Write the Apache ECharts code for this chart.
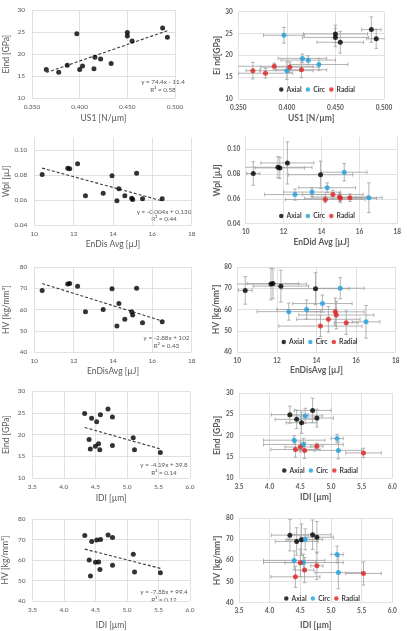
<!DOCTYPE html>
<html><head><meta charset="utf-8">
<script src="https://cdn.jsdelivr.net/npm/echarts@6/dist/echarts.min.js"></script>
<style>html,body{margin:0;padding:0;background:#fff}#c{width:407px;height:631px}</style>
</head><body><div id="c"></div>
<script>
// ---- DATA (samples ordered: Axial x5, Circ x5, Radial x5) ----
const groups = ['Axial', 'Circ', 'Radial'];
const sampleGroup = [0,0,0,0,0, 1,1,1,1,1, 2,2,2,2,2];
const US1     = [0.450, 0.450, 0.455, 0.487, 0.492, 0.397, 0.416, 0.422, 0.433, 0.400, 0.365, 0.378, 0.387, 0.403, 0.415];
const US1_sd  = [0.033, 0.034, 0.024, 0.010, 0.010, 0.021, 0.025, 0.028, 0.030, 0.027, 0.007, 0.028, 0.040, 0.030, 0.026];
const Eind    = [24.9, 24.1, 23.0, 25.9, 23.8, 24.6, 19.3, 18.9, 17.9, 16.5, 16.5, 15.9, 17.5, 17.3, 16.7];
const Eind_sd = [2.0, 2.1, 2.5, 2.9, 2.2, 1.8, 1.0, 1.0, 1.4, 2.0, 1.9, 1.1, 0.7, 1.2, 1.8];
const EnDis   = [11.7, 12.2, 13.95, 11.8, 10.4, 15.2, 14.3, 13.5, 12.6, 16.5, 14.6, 15.5, 15.0, 14.95, 14.2];
const EnDis_sd= [1.8, 1.4, 1.7, 1.3, 0.35, 1.2, 1.5, 1.5, 1.6, 0.7, 1.6, 0.6, 1.9, 1.45, 2.1];
const Wpl     = [0.0855, 0.089, 0.0795, 0.085, 0.0805, 0.0815, 0.069, 0.0655, 0.0635, 0.061, 0.0635, 0.061, 0.0605, 0.0615, 0.0595];
const Wpl_sd  = [0.0085, 0.017, 0.011, 0.0085, 0.0095, 0.007, 0.004, 0.0035, 0.0045, 0.012, 0.0035, 0.003, 0.0035, 0.0035, 0.0025];
const HV      = [72, 71, 69.8, 72.2, 69, 70, 62.8, 60, 59, 54.2, 55.4, 53.8, 57.4, 58.9, 52.2];
const HV_sd   = [7.5, 7.5, 7.5, 7, 6.5, 5, 4, 4.5, 4, 7.7, 6, 5.5, 6.5, 6.5, 5];
const IDI     = [4.33, 4.77, 4.52, 4.70, 4.44, 4.58, 5.10, 4.40, 4.55, 5.12, 4.57, 5.53, 4.77, 4.50, 4.42];
const IDI_sd  = [0.30, 0.27, 0.25, 0.30, 0.35, 0.28, 0.10, 0.50, 0.65, 0.38, 0.15, 0.29, 0.10, 0.25, 0.40];
const eqText  = ['y = 74.4x - 11.4', 'y = -0.004x + 0.130', 'y = -2.88x + 102', 'y = -4.19x + 39.8', 'y = -7.88x + 99.4'];
const r2Text  = ['R\u00b2 = 0.58', 'R\u00b2 = 0.44', 'R\u00b2 = 0.43', 'R\u00b2 = 0.14', 'R\u00b2 = 0.12'];

const vars = {
  US1:   {v: US1,   sd: US1_sd,   min: 0.35, max: 0.50, interval: 0.05, dec: 3},
  Eind:  {v: Eind,  sd: Eind_sd,  min: 10,   max: 30,   interval: 5,    dec: 0},
  EnDis: {v: EnDis, sd: EnDis_sd, min: 10,   max: 18,   interval: 2,    dec: 0},
  Wpl:   {v: Wpl,   sd: Wpl_sd,   min: 0.04, max: 0.11, interval: 0.02, dec: 2},
  HV:    {v: HV,    sd: HV_sd,    min: 40,   max: 80,   interval: 10,   dec: 0},
  IDI:   {v: IDI,   sd: IDI_sd,   min: 3.5,  max: 6.0,  interval: 0.5,  dec: 1}
};

// ---- LAYOUT ----
const panels = [
  {x:'US1', y:'Eind', right:false, grid:[32,10,143,88.3], xn:'US1 [N/\u00b5m]', yn:'Eind [GPa]', xg:15, yg:21, eq:0, eqPos:[163,82,89.5]},
  {x:'US1', y:'Eind', right:true,  grid:[238.3,11.7,145.7,87.3], xn:'US1 [N/\u00b5m]', yn:'Ei nd[GPa]', xg:14.5, yg:13, leg:[279,86]},
  {x:'EnDis', y:'Wpl', right:false, grid:[34.3,137.5,157.4,87.5], xn:'EnDis Avg [\u00b5J]', yn:'Wpl [\u00b5J]', xg:14.5, yg:23.5, eq:1, eqPos:[164,211.5,219]},
  {x:'EnDis', y:'Wpl', right:true,  grid:[245.7,136.9,151.6,86.8], xn:'EnDid Avg [\u00b5J]', yn:'Wpl [\u00b5J]', xg:14.5, yg:24, leg:[279,212.5]},
  {x:'EnDis', y:'HV', right:false, grid:[34.3,267,157.4,85], xn:'EnDisAvg [\u00b5J]', yn:'HV [kg/mm\u00b2]', xg:14.5, yg:23.5, eq:2, eqPos:[166.5,338,345.7]},
  {x:'EnDis', y:'HV', right:true,  grid:[237.3,267,158.4,85], xn:'EnDisAvg [\u00b5J]', yn:'HV [kg/mm\u00b2]', xg:14, yg:16, leg:[281.5,338.5]},
  {x:'IDI', y:'Eind', right:false, grid:[32.3,391.3,157.7,86.7], xn:'IDI [\u00b5m]', yn:'Eind [GPa]', xg:15.5, yg:21.5, eq:3, eqPos:[164,465,473]},
  {x:'IDI', y:'Eind', right:true,  grid:[239,393,153.3,85], xn:'IDI [\u00b5m]', yn:'Eind [GPa]', xg:15, yg:17, leg:[282,467]},
  {x:'IDI', y:'HV', right:false, grid:[32.3,519,157.7,85], xn:'IDI [\u00b5m]', yn:'HV [kg/mm\u00b2]', xg:20, yg:22.5, eq:4, eqPos:[164,592,600]},
  {x:'IDI', y:'HV', right:true,  grid:[239,518.3,153.3,85.7], xn:'IDI [\u00b5m]', yn:'HV [kg/mm\u00b2]', xg:18.5, yg:17.5, leg:[284,595]}
];
const colors = ['#000000', '#1DA1E0', '#E02020'];
const FONT = 'Lato, "Liberation Sans", sans-serif';
const grey = '#595959';

function axisCfg(key, i, isX, p) {
  const a = vars[key];
  return {
    type: 'value', gridIndex: i, min: a.min, max: a.max, interval: a.interval,
    axisLine: {show: false}, axisTick: {show: false},
    splitLine: {show: true, showMaxLine: key !== 'Wpl', lineStyle: {color: '#d9d9d9', width: 0.8}},
    axisLabel: {
      fontSize: 6.5, color: grey, fontFamily: FONT, fontWeight: p.right ? 'bold' : 'normal',
      margin: isX ? 5 : (p.right ? 5.5 : 7), showMaxLabel: key !== 'Wpl',
      formatter: v => (key === 'Wpl' && v > 0.105) ? '' : v.toFixed(a.dec)
    },
    name: isX ? p.xn : p.yn, nameLocation: 'middle', nameGap: isX ? p.xg : p.yg,
    nameTextStyle: {fontSize: 8.5, color: grey, fontFamily: FONT, fontWeight: p.right ? 'bold' : 'normal'}
  };
}

function errRender(params, api) {
  const x = api.value(0), y = api.value(1), ex = api.value(2), ey = api.value(3);
  const c = api.coord([x, y]);
  const l = api.coord([x - ex, y]), r = api.coord([x + ex, y]);
  const t = api.coord([x, y + ey]), b = api.coord([x, y - ey]);
  const cap = 1.8;
  const style = {stroke: '#a0a0a0', lineWidth: 0.8, fill: null};
  const ln = (x1, y1, x2, y2) => ({type: 'line', shape: {x1, y1, x2, y2}, style});
  return {type: 'group', children: [
    ln(l[0], c[1], r[0], c[1]), ln(l[0], c[1] - cap, l[0], c[1] + cap), ln(r[0], c[1] - cap, r[0], c[1] + cap),
    ln(c[0], t[1], c[0], b[1]), ln(c[0] - cap, t[1], c[0] + cap, t[1]), ln(c[0] - cap, b[1], c[0] + cap, b[1])
  ]};
}

const grid = [], xAxis = [], yAxis = [], series = [], legend = [], graphic = [];
panels.forEach((p, i) => {
  grid.push({left: p.grid[0], top: p.grid[1], width: p.grid[2], height: p.grid[3]});
  xAxis.push(axisCfg(p.x, i, true, p));
  yAxis.push(axisCfg(p.y, i, false, p));
  const X = vars[p.x], Y = vars[p.y];
  if (!p.right) {
    const pts = X.v.map((xv, k) => [xv, Y.v[k]]);
    series.push({type: 'scatter', xAxisIndex: i, yAxisIndex: i, data: pts, symbolSize: 5,
      itemStyle: {color: '#000'}, z: 3});
    // least squares trendline over data range
    const n = pts.length;
    const mx = pts.reduce((s, q) => s + q[0], 0) / n, my = pts.reduce((s, q) => s + q[1], 0) / n;
    let sxy = 0, sxx = 0;
    pts.forEach(q => { sxy += (q[0] - mx) * (q[1] - my); sxx += (q[0] - mx) ** 2; });
    const b1 = sxy / sxx, b0 = my - b1 * mx;
    const x0 = Math.min(...X.v), x1 = Math.max(...X.v);
    series.push({type: 'line', xAxisIndex: i, yAxisIndex: i, data: [[x0, b0 + b1 * x0], [x1, b0 + b1 * x1]],
      symbol: 'none', lineStyle: {type: [3, 2], width: 1.1, color: '#3a3a3a'}, z: 2, silent: true});
    graphic.push({type: 'text', x: p.eqPos[0], y: p.eqPos[1],
      style: {text: eqText[p.eq], fontSize: 6.3, fill: grey, fontFamily: FONT, align: 'center', verticalAlign: 'middle'}});
    graphic.push({type: 'text', x: p.eqPos[0], y: p.eqPos[2],
      style: {text: r2Text[p.eq], fontSize: 6.3, fill: grey, fontFamily: FONT, align: 'center', verticalAlign: 'middle'}});
  } else {
    groups.forEach((g, gi) => {
      const idx = sampleGroup.map((s, k) => s === gi ? k : -1).filter(k => k >= 0);
      series.push({type: 'custom', name: g + ' err', xAxisIndex: i, yAxisIndex: i, renderItem: errRender,
        data: idx.map(k => [X.v[k], Y.v[k], X.sd[k], Y.sd[k]]), encode: {x: 0, y: 1}, z: 1, silent: true, clip: true});
    });
    groups.forEach((g, gi) => {
      const idx = sampleGroup.map((s, k) => s === gi ? k : -1).filter(k => k >= 0);
      series.push({type: 'scatter', name: g, xAxisIndex: i, yAxisIndex: i, symbolSize: 5,
        data: idx.map(k => [X.v[k], Y.v[k]]), itemStyle: {color: colors[gi]}, z: 3});
    });
    legend.push({data: groups, left: p.leg[0], top: p.leg[1], orient: 'horizontal', icon: 'circle',
      itemWidth: 4.5, itemHeight: 4.5, itemGap: 4, selectedMode: false, padding: 0,
      textStyle: {fontSize: 6.8, color: '#404040', fontWeight: 'bold', fontFamily: FONT, padding: [0, 0, 0, -2]}});
  }
});

const chart = echarts.init(document.getElementById('c'), null, {renderer: 'canvas'});
chart.setOption({animation: false, backgroundColor: '#fff', grid, xAxis, yAxis, series, legend, graphic});
</script></body></html>
